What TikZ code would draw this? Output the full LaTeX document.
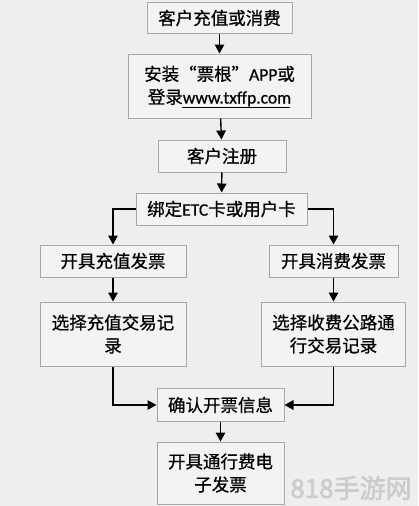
\documentclass[tikz,border=0pt]{standalone}
\usepackage{fontspec}
\setmainfont[FakeBold=0.6]{Noto Sans CJK SC}
\newfontfamily\lat[FakeBold=0.6]{Carlito}
\newfontfamily\markfont[FakeBold=2.5]{Noto Sans CJK SC}
\usepackage{tikz}
\usetikzlibrary{arrows, arrows.meta}
\definecolor{bgcol}{HTML}{EEEEEE}
\definecolor{boxcol}{HTML}{F3F3F3}
\definecolor{linecol}{HTML}{A8A8A8}
\tikzset{box/.style = {shape = rectangle, draw = linecol, fill = boxcol, line width = 1pt, align = center, inner sep = 0pt, font = \fontsize{17.5}{23}\selectfont}}
\tikzset{edge/.style = {line width = 1.4pt, -{Triangle[length = 9pt, width = 9.5pt]}}}

\begin{document}
\begin{tikzpicture}[x = 1pt, y = -1pt]
				\fill[bgcol] (0, 0) rectangle (418, 506);

				\node[box, minimum width = 145pt, minimum height = 31pt] (a) at (219.5, 18) {客户充值或消费};
				\node[box, minimum width = 183pt, minimum height = 64pt] (b) at (219.5, 86) {安装“票根”{\lat APP}或\\登录{\lat www.txffp.com}};
				\node[box, minimum width = 128pt, minimum height = 32pt] (c) at (222, 156) {客户注册};
				\node[box, minimum width = 171pt, minimum height = 32pt] (d) at (221.5, 209) {绑定{\lat ETC}卡或用户卡};
				\node[box, minimum width = 146pt, minimum height = 32pt] (e) at (113, 261) {开具充值发票};
				\node[box, minimum width = 129pt, minimum height = 32pt] (f) at (333.5, 261) {开具消费发票};
				\node[box, minimum width = 146pt, minimum height = 64pt] (g) at (113, 334) {选择充值交易记\\录};
				\node[box, minimum width = 144pt, minimum height = 64pt] (h) at (333.5, 334) {选择收费公路通\\行交易记录};
				\node[box, minimum width = 127pt, minimum height = 33pt] (i) at (220.5, 405) {确认开票信息};
				\node[box, minimum width = 127pt, minimum height = 62pt] (j) at (220.5, 473) {开具通行费电\\子发票};

				\node[text = black!20, font = \markfont\fontsize{26}{26}\selectfont] (w) at (351, 488) {818手游网};

				% underline of the web address
				\draw[line width = 0.8pt] (182, 107) -- (290, 107);

				\draw[edge] (a) to (b);
				\draw[edge] (b) to (c);
				\draw[edge] (c) to (d);
				\draw[edge] (d.west) -| (e.north);
				\draw[edge] (d.east) -| (f.north);
				\draw[edge] (e) to (g);
				\draw[edge] (f) to (h);
				\draw[edge] (g.south) |- (i.west);
				\draw[edge] (h.south) |- (i.east);
				\draw[edge] (i) to (j);
			\end{tikzpicture}
\end{document}
